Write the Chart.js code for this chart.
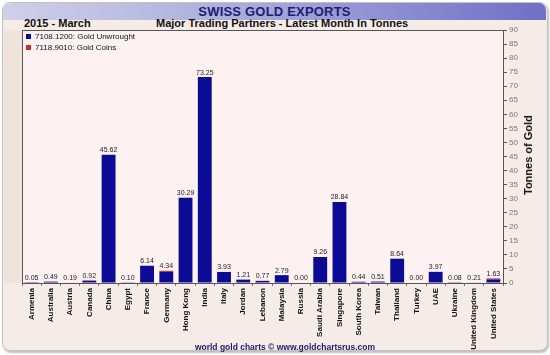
<!DOCTYPE html>
<html>
<head>
<meta charset="utf-8">
<script src="https://cdn.jsdelivr.net/npm/chart.js@4"></script>
<style>
  html,body{margin:0;padding:0;background:#ffffff;}
  #wrap{position:relative;width:550px;height:355px;overflow:hidden;background:#ffffff;font-family:"Liberation Sans",Arial,sans-serif;}
  #frame{position:absolute;left:2px;top:2px;width:544px;height:347px;background:#f6ece7;border:1px solid #c9c0bc;border-radius:8px;box-shadow:1px 2px 2px rgba(0,0,0,0.25);}
  #header{position:absolute;left:3px;top:3px;width:543px;height:17px;border-radius:7px 7px 0 0;background:linear-gradient(to right,#cfd0ea 0%,#a9abdc 45%,#6f70c6 100%);color:#1d1d72;font-weight:bold;font-size:13px;line-height:17px;text-align:center;letter-spacing:0.2px;}
  #sub1{position:absolute;left:24px;top:17px;font-weight:bold;font-size:11px;color:#111;}
  #sub2{position:absolute;left:156px;top:17px;width:218px;text-align:center;font-weight:bold;font-size:11px;color:#111;white-space:nowrap;}
  #legend{position:absolute;left:26px;top:31px;font-size:8px;color:#111;line-height:11px;}
  #legend .sw{display:inline-block;width:5px;height:5px;margin-right:4px;vertical-align:0px;}
  #ytitle{position:absolute;left:528px;top:155px;transform:translate(-50%,-50%) rotate(-90deg);font-weight:bold;font-size:11px;color:#111;white-space:nowrap;}
  #footer{position:absolute;left:0;top:342px;width:570px;text-align:center;font-weight:bold;font-size:8.5px;color:#1d1d6a;}
  canvas{position:absolute;left:0;top:0;}
</style>
</head>
<body>
<div id="wrap">
  <div id="frame"></div>
  <div id="header">SWISS GOLD EXPORTS</div>
  <div id="sub1">2015 - March</div>
  <div id="sub2">Major Trading Partners - Latest Month In Tonnes</div>
  <canvas id="c" width="550" height="355"></canvas>
  <div id="legend"></div>
  <div id="ytitle">Tonnes of Gold</div>
  <div id="footer">world gold charts © www.goldchartsrus.com</div>
</div>
<script>
const categories = ["Armenia","Australia","Austria","Canada","China","Egypt","France","Germany","Hong Kong","India","Italy","Jordan","Lebanon","Malaysia","Russia","Saudi Arabia","Singapore","South Korea","Taiwan","Thailand","Turkey","UAE","Ukraine","United Kingdom","United States"];
const goldUnwrought = [0.05,0.49,0.19,0.82,45.62,0.10,6.14,3.94,30.29,73.25,3.93,1.21,0.77,2.79,0.00,9.26,28.84,0.44,0.51,8.64,0.00,3.97,0.08,0.21,1.28];
const goldCoins     = [0.00,0.00,0.00,0.10,0.00,0.00,0.00,0.40,0.00,0.00,0.00,0.00,0.00,0.00,0.00,0.00,0.00,0.00,0.00,0.00,0.00,0.00,0.00,0.00,0.35];
const seriesNames = ["7108.1200: Gold Unwrought","7118.9010: Gold Coins"];
const seriesColors = ["#0b0b96","#d02a2a"];
const yTicks = [0,5,10,15,20,25,30,35,40,45,50,55,60,65,70,75,80,85,90];

// HTML legend
const lg = document.getElementById('legend');
seriesNames.forEach((n,i)=>{
  const d=document.createElement('div');
  d.innerHTML='<span class="sw" style="background:'+seriesColors[i]+'"></span>'+n;
  lg.appendChild(d);
});

const plotBg = {
  id:'plotBg',
  beforeDraw(chart){
    const {ctx,chartArea:a}=chart;
    ctx.save();
    ctx.fillStyle='#efe3dc';
    ctx.fillRect(4,30,a.left-4,a.bottom-30);
    ctx.fillStyle='#fdf1f1';
    ctx.fillRect(a.left,a.top,a.right-a.left,a.bottom-a.top);
    ctx.restore();
  },
  afterDraw(chart){
    const {ctx,chartArea:a}=chart;
    ctx.save();
    ctx.strokeStyle='#555';
    ctx.lineWidth=1;
    ctx.strokeRect(Math.round(a.left)+0.5,Math.round(a.top)+0.5,Math.round(a.right-a.left),Math.round(a.bottom-a.top));
    ctx.restore();
  }
};

const totalsLabels = {
  id:'totalsLabels',
  afterDatasetsDraw(chart){
    const {ctx}=chart;
    const top = chart.getDatasetMeta(1).data;
    const bot = chart.getDatasetMeta(0).data;
    ctx.save();
    ctx.font='7px "Liberation Sans", Arial, sans-serif';
    ctx.fillStyle='#222';
    ctx.textAlign='center';
    ctx.textBaseline='bottom';
    categories.forEach((c,i)=>{
      const tot = goldUnwrought[i]+goldCoins[i];
      const y = Math.min(top[i].y, bot[i].y);
      ctx.fillText(tot.toFixed(2), bot[i].x, y-1);
    });
    ctx.restore();
  }
};

new Chart(document.getElementById('c'),{
  type:'bar',
  data:{
    labels:categories,
    datasets:[
      {label:seriesNames[0],data:goldUnwrought,backgroundColor:seriesColors[0],categoryPercentage:1,barPercentage:0.72,borderWidth:0},
      {label:seriesNames[1],data:goldCoins,backgroundColor:seriesColors[1],categoryPercentage:1,barPercentage:0.72,borderWidth:0}
    ]
  },
  options:{
    responsive:false,
    animation:false,
    layout:{padding:{left:22,top:30,right:0,bottom:0}},
    plugins:{legend:{display:false},tooltip:{enabled:false}},
    scales:{
      x:{
        stacked:true,
        afterFit(s){s.height=72;},
        grid:{offset:true,drawOnChartArea:false,tickLength:3,color:'#777'},
        border:{display:false},
        ticks:{minRotation:90,maxRotation:90,autoSkip:false,padding:2,color:'#111',font:{family:'"Liberation Sans", Arial, sans-serif',size:8,weight:'bold'}}
      },
      y:{
        stacked:true,
        position:'right',
        min:0,max:90,
        afterFit(s){s.width=47;},
        afterBuildTicks(s){s.ticks=yTicks.map(v=>({value:v}));},
        grid:{drawOnChartArea:false,tickLength:4,color:'#555'},
        border:{display:true,color:'#555'},
        ticks:{stepSize:5,padding:2,color:'#777',font:{family:'"Liberation Sans", Arial, sans-serif',size:8}}
      }
    }
  },
  plugins:[plotBg,totalsLabels]
});
</script>
</body>
</html>
